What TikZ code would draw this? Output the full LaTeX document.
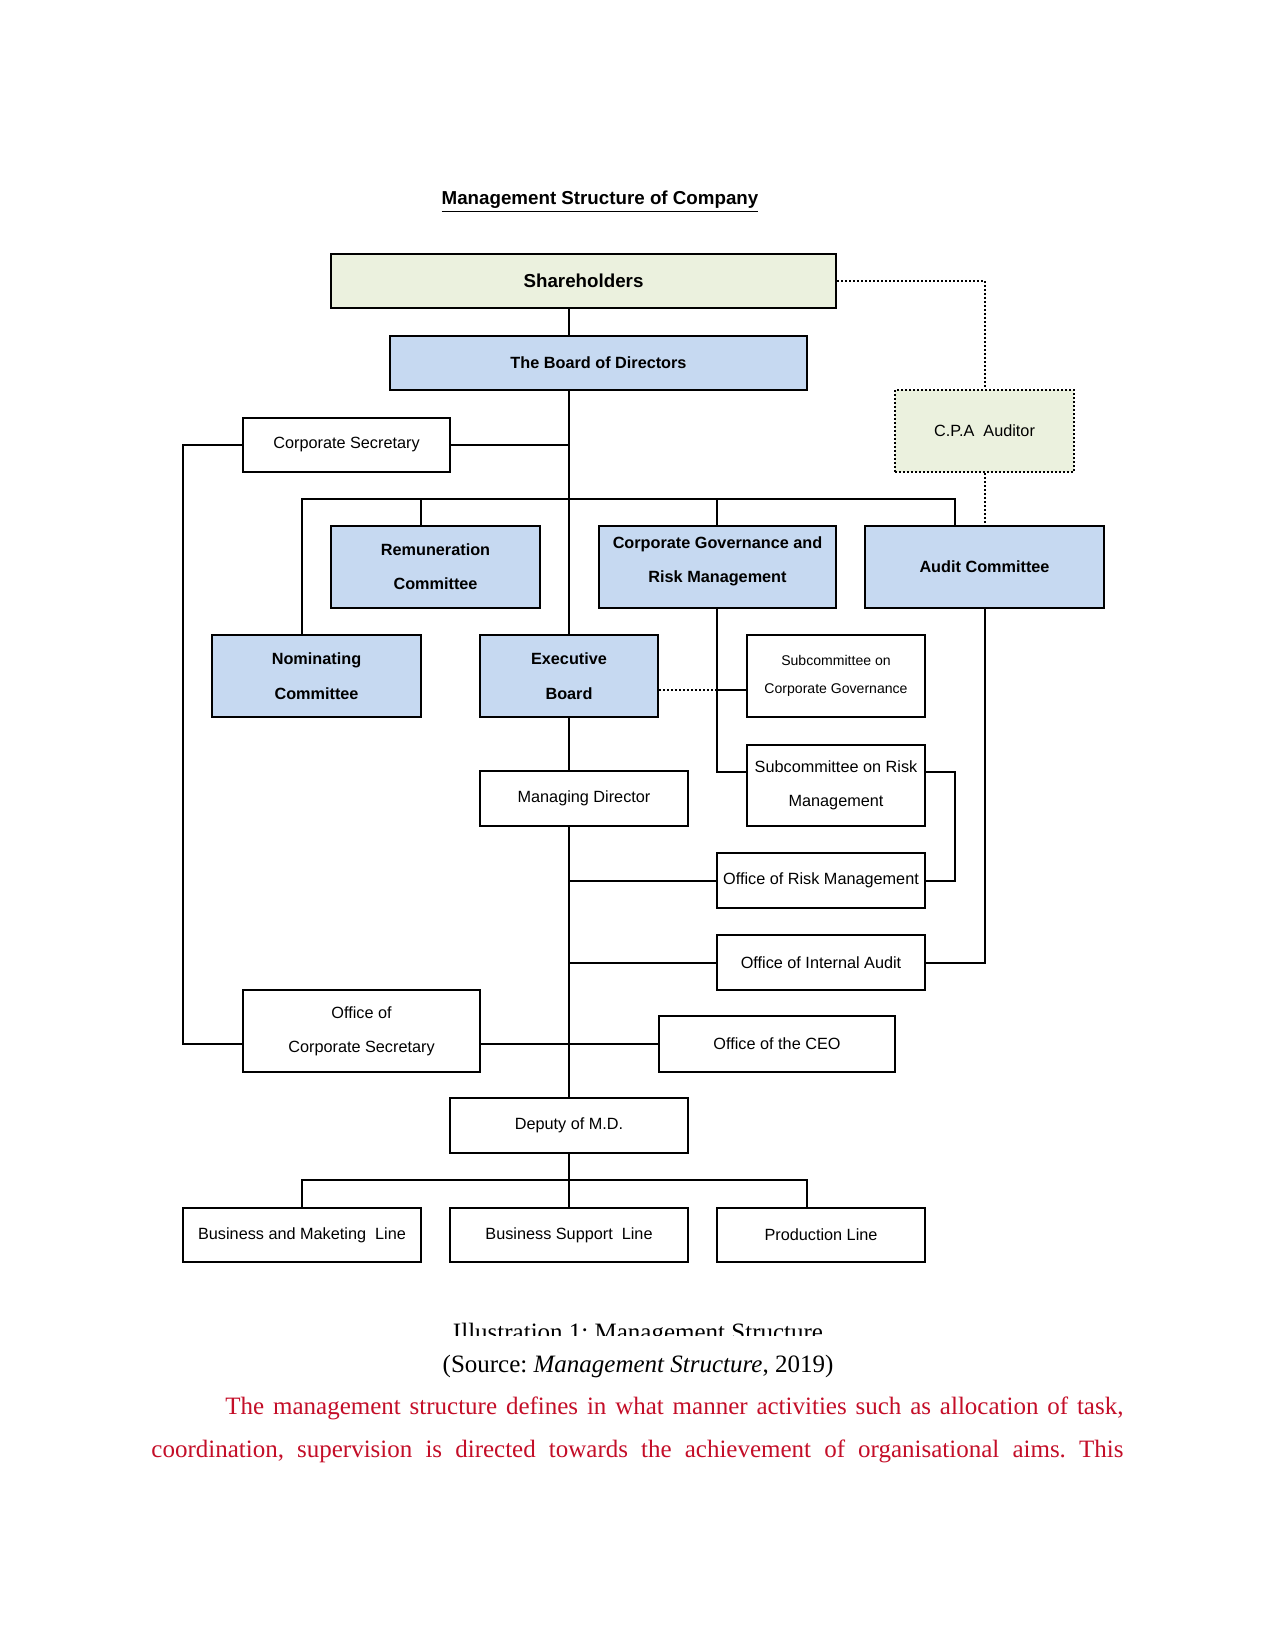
\documentclass[tikz,border=0pt]{standalone}
\usepackage{fontspec}
\setmainfont{Liberation Serif}
\setsansfont{Liberation Sans}
\definecolor{blueF}{HTML}{C6D9F1}
\definecolor{greenF}{HTML}{EBF1DE}
\definecolor{bodyRed}{RGB}{196,14,40}
\frenchspacing
\newcommand\orgbox[7]{\node[#1, minimum width={(#4-#2)*0.48pt}, minimum height={(#5-#3)*0.48pt}] (#6) at ({(#2+#4)/2},{(#3+#5)/2}) {#7};}
\begin{document}
\begin{tikzpicture}[x=0.48pt,y=-0.48pt,
  box/.style={draw=black, line width=0.96pt, fill=white, inner sep=0pt, align=center, font=\sffamily\fontsize{7.8}{16.5}\selectfont},
  bbox/.style={box, fill=blueF, font=\sffamily\bfseries\fontsize{7.8}{16.5}\selectfont},
  gbox/.style={box, fill=greenF},
  conn/.style={line width=0.96pt, draw=black},
  dotline/.style={line width=0.96pt, draw=black, dash pattern=on 0.96pt off 0.96pt}]
\fill[white] (0,0) rectangle (1275,1650);
\useasboundingbox (0,0) rectangle (1275,1650);

% title
\node[anchor=base, inner sep=0pt, font=\sffamily\bfseries\fontsize{9}{11}\selectfont] (title) at (600,205) {\underline{Management Structure of Company}};

% boxes
\orgbox{gbox, font=\sffamily\bfseries\fontsize{9}{11}\selectfont}{331}{254}{836}{308}{sh}{Shareholders}
\orgbox{bbox}{390}{336}{807}{390}{bod}{The Board of Directors}
\orgbox{box}{243}{418}{450}{472}{cs}{Corporate Secretary}
\orgbox{gbox, dotline}{895}{390}{1074}{472}{cpa}{C.P.A\ \ Auditor}
\orgbox{bbox}{331}{526}{540}{608}{rem}{Remuneration\\Committee}
\orgbox{bbox}{599}{526}{836}{608}{cgrm}{}
\node[font=\sffamily\bfseries\fontsize{7.8}{16.5}\selectfont, align=center, inner sep=0pt, yshift=2.8pt] (cgrmtext) at (cgrm.center) {Corporate Governance and\\Risk Management};
\orgbox{bbox}{865}{526}{1104}{608}{ac}{Audit Committee}
\orgbox{bbox}{212}{635}{421}{717}{nom}{Nominating\\Committee}
\orgbox{bbox}{480}{635}{658}{717}{eb}{Executive\\Board}
\orgbox{box, font=\sffamily\fontsize{6.75}{13.6}\selectfont}{747}{635}{925}{717}{scg}{Subcommittee on\\Corporate Governance}
\orgbox{box}{480}{771}{688}{826}{md}{Managing Director}
\orgbox{box}{747}{745}{925}{826}{srm}{Subcommittee on Risk\\Management}
\orgbox{box}{717}{853}{925}{908}{orm}{Office of Risk Management}
\orgbox{box}{717}{935}{925}{990}{oia}{Office of Internal Audit}
\orgbox{box}{243}{990}{480}{1072}{ocs}{Office of\\Corporate Secretary}
\orgbox{box}{659}{1016}{895}{1072}{ceo}{Office of the CEO}
\orgbox{box}{450}{1098}{688}{1153}{dep}{Deputy of M.D.}
\orgbox{box}{183}{1208}{421}{1262}{bml}{Business and Maketing\ \ Line}
\orgbox{box}{450}{1208}{688}{1262}{bsl}{Business Support\ \ Line}
\orgbox{box}{717}{1208}{925}{1262}{pl}{Production Line}

% helper coordinates
\coordinate (sp) at (569,0);
\coordinate (lb) at (183,0);
\coordinate (ocsy) at (0,1044);
\coordinate (bus1) at (302,499);
\coordinate (bus2) at (955,499);
\coordinate (remx) at (421,0);
\coordinate (srmy) at (0,772);
\coordinate (scgy) at (0,690);
\coordinate (rx) at (955,0);
\coordinate (cx) at (985,0);
\coordinate (b3) at (302,1180);
\coordinate (b4) at (807,1180);

% connectors
\draw[conn] (sh.south -| sp) -- (bod.north -| sp);
\draw[conn] (bod.south -| sp) -- (eb.north -| sp);
\draw[conn] (cs.east) -- (cs.east -| sp);
\draw[conn] (cs.west) -| (lb |- ocsy) -- (ocs.west |- ocsy);
\draw[conn] (ocs.east |- ocsy) -- (ceo.west |- ocsy);
\draw[conn] (nom.north -| bus1) |- (bus2) -- (ac.north -| bus2);
\draw[conn] (rem.north -| remx) -- (bus1 -| remx);
\draw[conn] (cgrm.north -| 717,0) -- (bus1 -| 717,0);
\draw[conn] (cgrm.south -| 717,0) |- (srm.west |- srmy);
\draw[conn] (scg.west |- scgy) -- (717,690);
\draw[dotline] (eb.east |- scgy) -- (717,690);
\draw[conn] (srm.east |- srmy) -| (rx |- orm.east) -- (orm.east);
\draw[conn] (ac.south -| cx) |- (oia.east);
\draw[conn] (orm.west) -- (orm.west -| sp);
\draw[conn] (oia.west) -- (oia.west -| sp);
\draw[conn] (md.south -| sp) -- (dep.north -| sp);
\draw[conn] (eb.south) -- (md.north -| eb.south);
\draw[conn] (dep.south -| sp) -- (bsl.north -| sp);
\draw[conn] (bml.north -| b3) |- (b4) -- (pl.north -| b4);
\draw[dotline] (sh.east) -| (cpa.north -| cx);
\draw[dotline] (cpa.south -| cx) -- (ac.north -| cx);

% caption (clipped)
\begin{scope}
\clip (0,1000) rectangle (1275,1335);
\node[anchor=base, inner sep=0pt, font=\fontsize{12}{14}\selectfont] (cap) at (638,1340) {Illustration 1: Management Structure};
\end{scope}
\node[anchor=base, inner sep=0pt, font=\fontsize{12}{14}\selectfont] (src) at (638,1372) {(Source: \textit{Management Structure}, 2019)};

% body text
\node[anchor=base west, inner sep=0pt, text=bodyRed, font=\fontsize{12}{14}\selectfont] (body1) at (225,1414) {\hbox to 431.04pt{The management structure defines in what manner activities such as allocation of task,}};
\node[anchor=base west, inner sep=0pt, text=bodyRed, font=\fontsize{12}{14}\selectfont] (body2) at (151,1457) {\hbox to 466.56pt{coordination, supervision is directed towards the achievement of organisational aims. This}};
\end{tikzpicture}
\end{document}
